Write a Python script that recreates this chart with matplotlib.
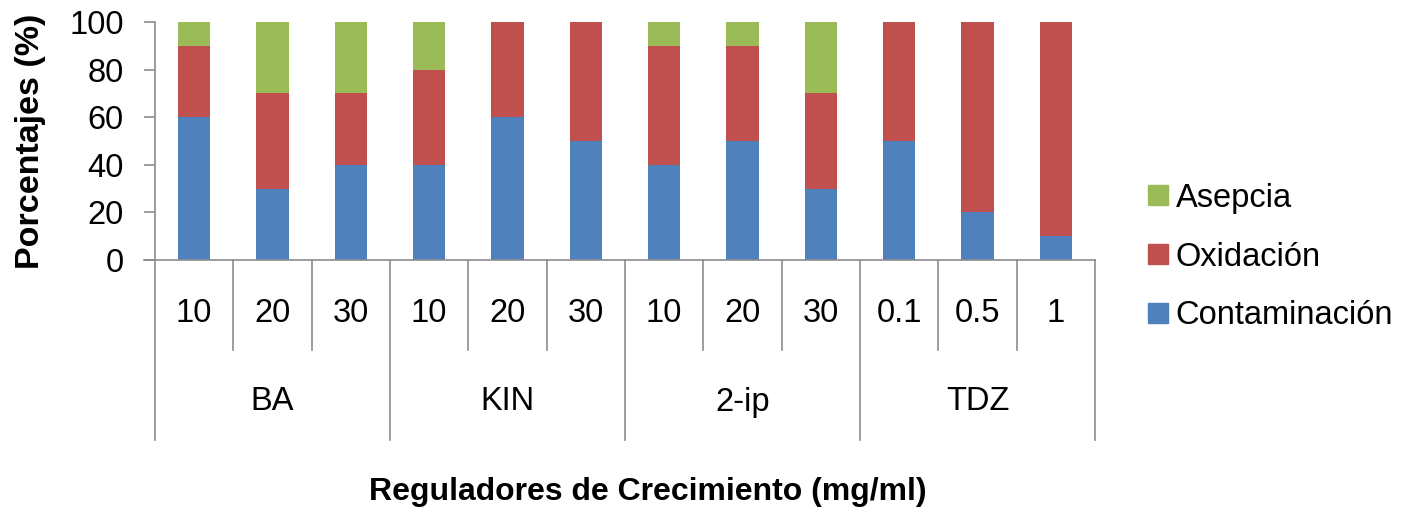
import numpy as np
from matplotlib import pyplot as plt
from matplotlib.patches import Patch

plt.rcParams['font.family'] = ['Liberation Sans', 'DejaVu Sans']

groups = ['BA', 'KIN', '2-ip', 'TDZ']
doses = [['10', '20', '30'], ['10', '20', '30'], ['10', '20', '30'], ['0.1', '0.5', '1']]

contaminacion = [60, 30, 40, 40, 60, 50, 40, 50, 30, 50, 20, 10]
oxidacion = [30, 40, 30, 40, 40, 50, 50, 40, 40, 50, 80, 90]
asepcia = [10, 30, 30, 20, 0, 0, 10, 10, 30, 0, 0, 0]

c_blue = '#4F81BD'
c_red = '#C0504D'
c_green = '#9BBB59'
c_axis = '#8C8C8C'
fs = 23.5

fig = plt.figure(figsize=(14.06, 5.16), dpi=100)
ax = fig.add_axes([155 / 1406, 1 - 260 / 516, 940 / 1406, 238 / 516])

x = np.arange(len(contaminacion))
bw = 0.41
cont = np.array(contaminacion)
oxi = np.array(oxidacion)
ase = np.array(asepcia)
ax.bar(x, cont, bw, color=c_blue, edgecolor='none')
ax.bar(x, oxi, bw, bottom=cont, color=c_red, edgecolor='none')
ax.bar(x, ase, bw, bottom=cont + oxi, color=c_green, edgecolor='none')

ax.set_xlim(-0.5, len(x) - 0.5)
ax.set_ylim(0, 100)
ax.set_yticks(np.arange(0, 101, 20))
ax.tick_params(axis='y', labelsize=fs, length=8, width=1.2, color=c_axis, pad=14.5)
ax.set_xticks([])

for s in ['top', 'right']:
    ax.spines[s].set_visible(False)
for s in ['left', 'bottom']:
    ax.spines[s].set_color(c_axis)
    ax.spines[s].set_linewidth(1.2)

# extend base line left to the zero tick
trans = ax.get_xaxis_transform()
ax.plot([-0.5 - 11 / 78.3, -0.5], [0, 0], transform=trans, color=c_axis, lw=1.2, clip_on=False)

# multi-level category axis
small_end = -90 / 238
group_end = -180 / 238
labels = [d for ds in doses for d in ds]
for i, lab in enumerate(labels):
    ax.text(i, -53 / 238, lab, transform=trans, ha='center', va='center', fontsize=fs)
n = 0
for g, ds in zip(groups, doses):
    ax.plot([n - 0.5, n - 0.5], [0, group_end], transform=trans, color=c_axis, lw=1.2, clip_on=False)
    for k in range(1, len(ds)):
        ax.plot([n + k - 0.5, n + k - 0.5], [0, small_end], transform=trans,
                color=c_axis, lw=1.2, clip_on=False)
    ax.text(n + (len(ds) - 1) / 2, -142 / 238, g, transform=trans, ha='center', va='center', fontsize=fs)
    n += len(ds)
ax.plot([n - 0.5, n - 0.5], [0, group_end], transform=trans, color=c_axis, lw=1.2, clip_on=False)

ax.set_ylabel('Porcentajes (%)', fontsize=24.5, fontweight='bold', labelpad=17)
fig.text(648 / 1406, 1 - 492 / 516, 'Reguladores de Crecimiento (mg/ml)',
         ha='center', va='center', fontsize=23, fontweight='bold')

handles = [Patch(color=c_green, label='Asepcia'),
           Patch(color=c_red, label='Oxidación'),
           Patch(color=c_blue, label='Contaminación')]
fig.legend(handles=handles, loc='center left', bbox_to_anchor=(1148 / 1406, 1 - 257 / 516),
           frameon=False, fontsize=fs, handlelength=0.6, handleheight=0.55,
           handletextpad=0.25, labelspacing=0.85, borderaxespad=0, borderpad=0)

plt.savefig('out.png', dpi=100)
